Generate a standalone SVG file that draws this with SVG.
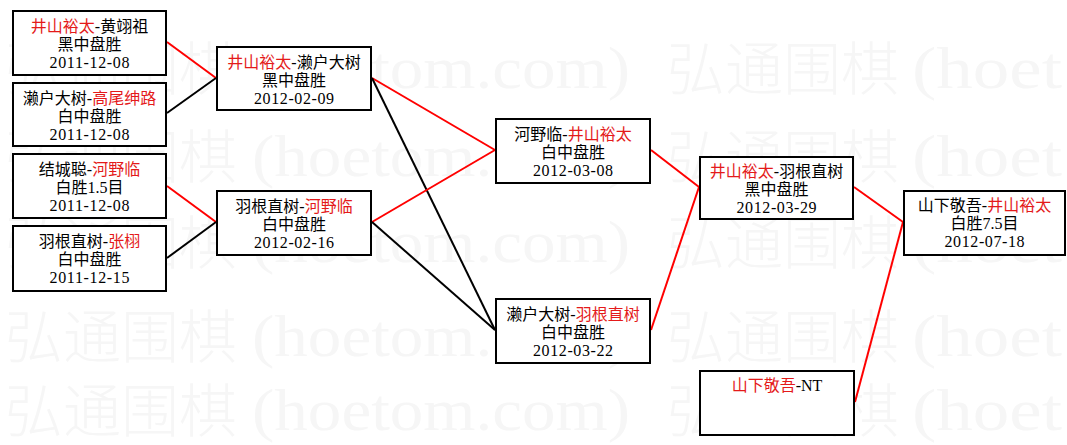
<svg xmlns="http://www.w3.org/2000/svg" width="1067" height="445" viewBox="0 0 1067 445">
<style>
.bg{fill:#ffffff}
.wm{font-family:"Noto Sans CJK SC","Liberation Serif",sans-serif;font-size:58px;font-weight:300;fill:#f6f6f6}
.wml{font-family:"Liberation Serif","Noto Sans CJK SC",serif;font-size:60px;fill:#f6f6f6}
.box{fill:#ffffff;stroke:#000000;stroke-width:2}
.t{font-family:"Liberation Serif","Noto Sans CJK SC",serif;font-size:16px;fill:#000000;text-anchor:middle}
.r{fill:#e41a1a}
.cr{stroke:#ff0000;stroke-width:2;fill:none}
.cb{stroke:#000000;stroke-width:2;fill:none}
</style>
<rect class="bg" x="0" y="0" width="1067" height="445"/>
<g id="watermark">
<text class="wm" x="5" y="90">弘通围棋</text><text class="wml" x="252" y="88" textLength="378" lengthAdjust="spacingAndGlyphs">(hoetom.com)</text><text class="wm" x="667" y="90">弘通围棋</text><text class="wml" x="912" y="88" textLength="150" lengthAdjust="spacingAndGlyphs">(hoet</text>
<text class="wm" x="5" y="178">弘通围棋</text><text class="wml" x="252" y="176" textLength="378" lengthAdjust="spacingAndGlyphs">(hoetom.com)</text><text class="wm" x="667" y="178">弘通围棋</text><text class="wml" x="912" y="176" textLength="150" lengthAdjust="spacingAndGlyphs">(hoet</text>
<text class="wm" x="5" y="264">弘通围棋</text><text class="wml" x="252" y="262" textLength="378" lengthAdjust="spacingAndGlyphs">(hoetom.com)</text><text class="wm" x="667" y="264">弘通围棋</text><text class="wml" x="912" y="262" textLength="150" lengthAdjust="spacingAndGlyphs">(hoet</text>
<text class="wm" x="5" y="358">弘通围棋</text><text class="wml" x="252" y="356" textLength="378" lengthAdjust="spacingAndGlyphs">(hoetom.com)</text><text class="wm" x="667" y="358">弘通围棋</text><text class="wml" x="912" y="356" textLength="150" lengthAdjust="spacingAndGlyphs">(hoet</text>
<text class="wm" x="5" y="432">弘通围棋</text><text class="wml" x="252" y="430" textLength="378" lengthAdjust="spacingAndGlyphs">(hoetom.com)</text><text class="wm" x="667" y="432">弘通围棋</text><text class="wml" x="912" y="430" textLength="150" lengthAdjust="spacingAndGlyphs">(hoet</text>
</g>
<g id="connectors">
<line class="cr" x1="167" y1="42" x2="216" y2="78"/>
<line class="cb" x1="167" y1="113" x2="216" y2="78"/>
<line class="cr" x1="167" y1="186" x2="216" y2="222"/>
<line class="cb" x1="167" y1="258" x2="216" y2="222"/>
<line class="cr" x1="372" y1="78" x2="495" y2="150"/>
<line class="cb" x1="372" y1="78" x2="495" y2="330"/>
<line class="cr" x1="372" y1="222" x2="495" y2="150"/>
<line class="cb" x1="372" y1="222" x2="495" y2="330"/>
<line class="cr" x1="651" y1="150" x2="699" y2="187"/>
<line class="cr" x1="651" y1="330" x2="699" y2="187"/>
<line class="cr" x1="854" y1="187" x2="903" y2="222"/>
<line class="cr" x1="855" y1="402" x2="903" y2="222"/>
</g>
<g id="n1">
<rect class="box" x="13" y="11" width="153" height="64"/>
<text class="t" x="89.5" y="32"><tspan class="r">井山裕太</tspan>-黄翊祖</text>
<text class="t" x="89.5" y="50">黑中盘胜</text>
<text class="t" x="89.5" y="68" textLength="80" lengthAdjust="spacing">2011-12-08</text>
</g>
<g id="n2">
<rect class="box" x="13" y="83" width="153" height="63"/>
<text class="t" x="89.5" y="104">濑户大树-<tspan class="r">高尾绅路</tspan></text>
<text class="t" x="89.5" y="122">白中盘胜</text>
<text class="t" x="89.5" y="140" textLength="80" lengthAdjust="spacing">2011-12-08</text>
</g>
<g id="n3">
<rect class="box" x="13" y="154" width="153" height="64"/>
<text class="t" x="89.5" y="175">结城聪-<tspan class="r">河野临</tspan></text>
<text class="t" x="89.5" y="193">白胜1.5目</text>
<text class="t" x="89.5" y="211" textLength="80" lengthAdjust="spacing">2011-12-08</text>
</g>
<g id="n4">
<rect class="box" x="13" y="226" width="153" height="65"/>
<text class="t" x="89.5" y="247">羽根直树-<tspan class="r">张栩</tspan></text>
<text class="t" x="89.5" y="265">白中盘胜</text>
<text class="t" x="89.5" y="283" textLength="80" lengthAdjust="spacing">2011-12-15</text>
</g>
<g id="n5">
<rect class="box" x="217" y="47" width="154" height="63"/>
<text class="t" x="294" y="68"><tspan class="r">井山裕太</tspan>-濑户大树</text>
<text class="t" x="294" y="86">黑中盘胜</text>
<text class="t" x="294" y="104" textLength="80" lengthAdjust="spacing">2012-02-09</text>
</g>
<g id="n6">
<rect class="box" x="217" y="191" width="154" height="64"/>
<text class="t" x="294" y="212">羽根直树-<tspan class="r">河野临</tspan></text>
<text class="t" x="294" y="230">白中盘胜</text>
<text class="t" x="294" y="248" textLength="80" lengthAdjust="spacing">2012-02-16</text>
</g>
<g id="n7">
<rect class="box" x="496" y="119" width="154" height="64"/>
<text class="t" x="573" y="140">河野临-<tspan class="r">井山裕太</tspan></text>
<text class="t" x="573" y="158">白中盘胜</text>
<text class="t" x="573" y="176" textLength="80" lengthAdjust="spacing">2012-03-08</text>
</g>
<g id="n8">
<rect class="box" x="496" y="299" width="154" height="64"/>
<text class="t" x="573" y="320">濑户大树-<tspan class="r">羽根直树</tspan></text>
<text class="t" x="573" y="338">白中盘胜</text>
<text class="t" x="573" y="356" textLength="80" lengthAdjust="spacing">2012-03-22</text>
</g>
<g id="n9">
<rect class="box" x="700" y="157" width="153" height="62"/>
<text class="t" x="776.5" y="177"><tspan class="r">井山裕太</tspan>-羽根直树</text>
<text class="t" x="776.5" y="195">黑中盘胜</text>
<text class="t" x="776.5" y="213" textLength="80" lengthAdjust="spacing">2012-03-29</text>
</g>
<g id="n10">
<rect class="box" x="700" y="371" width="154" height="64"/>
<text class="t" x="777" y="391"><tspan class="r">山下敬吾</tspan>-NT</text>
</g>
<g id="n11">
<rect class="box" x="904" y="191" width="161" height="64"/>
<text class="t" x="984.5" y="211">山下敬吾-<tspan class="r">井山裕太</tspan></text>
<text class="t" x="984.5" y="229">白胜7.5目</text>
<text class="t" x="984.5" y="247" textLength="80" lengthAdjust="spacing">2012-07-18</text>
</g>
</svg>
